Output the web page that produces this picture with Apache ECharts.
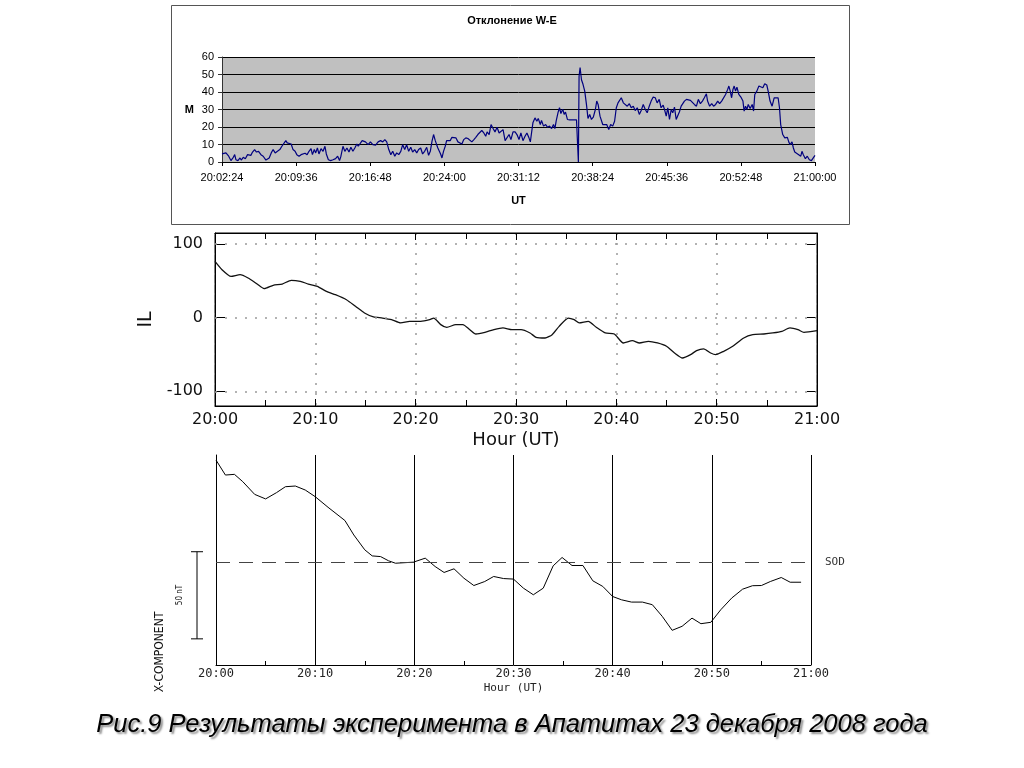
<!DOCTYPE html>
<html><head><meta charset="utf-8">
<script src="https://cdn.jsdelivr.net/npm/echarts@6/dist/echarts.min.js"></script>
<style>html,body{margin:0;padding:0;background:#fff;}#c{width:1024px;height:768px;}</style>
</head><body><div id="c"></div>
<script>
// ---------- data ----------
const topTitle = 'Отклонение W-E';
const topTickLabels = ['20:02:24','20:09:36','20:16:48','20:24:00','20:31:12','20:38:24','20:45:36','20:52:48','21:00:00'];
// seconds after 20:02:24
const topSeconds = [0,23,39,52,66,74,81,93,105,112,124,136,149,159,168,178,190,201,213,227,240,256,265,275,287,298,310,323,337,349,360,372,380,391,403,414,426,436,449,461,472,484,496,507,519,527,538,546,556,565,577,589,600,608,620,633,647,662,674,685,693,705,716,728,740,751,763,774,786,794,805,817,
836,852,865,879,895,910,924,937,949,960,972,984,995,1007,1018,1030,1042,1053,1065,1076,1088,1100,1111,1123,1135,1146,1158,1169,1181,1193,1204,1214,1224,1233,1243,1251,1258,1266,1274,1282,1291,1301,1309,1320,1330,1340,1351,1363,1375,1386,1398,1409,1421,1433,1444,1456,1468,1479,1491,1502,1514,1526,1537,1545,1557,1568,1580,1591,1603,1615,1626,1638,1650,1661,1673,1684,1696,
1708,1719,1731,1742,1754,1766,1777,1789,1797,1804,1812,1824,1835,1843,1855,1862,1874,1886,1897,1909,1921,1932,1940,1948,1959,1967,1975,1986,1994,2002,2013,2027,2046,2066,2075,2077,2081,2087,2095,2104,2114,2124,2133,2143,2153,2164,2176,2184,2192,2203,2211,2219,2230,2242,2254,2265,2277,2288,2298,2308,2319,2327,2339,2350,2362,2374,2385,2397,2408,2420,2432,2443,2455,2467,2478,2490,2501,2513,2525,2536,2548,2559,2571,
2579,2589,2598,2608,2618,2627,2637,2647,2656,2666,2676,2687,2695,2707,2718,2730,2741,2753,2765,2776,2788,2800,2811,2823,2830,2842,2854,2865,2877,2889,2900,2912,2923,2935,2947,2954,2962,2970,2978,2985,2993,3001,3012,3024,3036,3043,3051,3059,3067,3078,3090,3098,3105,3117,3129,3140,3152,3163,3175,3183,3194,3206,3218,3229,3241,3249,3256,3268,3280,3287,3295,3303,3311,3322,3330,3338,3349,3361,3373,3380,3388,3400,3411,3423,3435,3446,3456];
const topValues = [4.6,5.2,3.3,0.8,2.7,4.2,1.3,0.8,2.3,1.1,2.7,1.9,4.2,5.0,3.8,5.7,7.1,5.7,6.1,4.2,3.3,1.1,0.8,2.3,5.2,7.1,5.2,6.1,7.1,9.0,9.9,12.2,10.9,9.9,10.3,7.1,6.1,4.2,3.3,4.2,3.6,5.0,4.2,6.1,7.6,4.2,7.1,5.2,8.0,4.6,7.6,6.1,9.0,4.6,1.3,0.8,1.3,1.9,3.3,0.8,3.3,9.0,6.1,8.0,5.7,8.4,6.1,8.0,10.3,9.0,9.9,12.2,
11.5,9.9,11.5,9.9,9.6,11.5,12.2,11.5,12.8,11.5,7.1,4.2,6.1,3.3,5.2,4.2,6.1,9.9,7.1,9.9,6.1,8.4,5.7,7.1,5.2,7.1,8.0,4.6,6.1,8.4,3.8,6.1,11.9,15.7,12.2,9.9,8.0,7.6,4.6,2.3,6.1,9.0,12.2,12.8,12.2,14.1,14.7,13.8,11.5,12.2,10.3,12.8,13.8,13.4,13.8,11.5,12.8,14.1,15.7,14.7,18.0,16.6,14.7,17.2,15.7,21.4,19.1,17.2,19.9,16.6,15.7,18.5,12.2,11.5,15.7,12.8,17.2,
17.2,15.7,12.8,16.6,12.2,14.7,16.6,13.8,11.5,16.6,22.4,25.2,23.3,24.9,21.4,23.7,20.5,21.4,19.9,20.5,19.1,21.4,19.1,23.7,28.5,31.0,27.7,30.2,27.2,28.5,24.3,24.1,24.1,24.1,24.1,0,49,54,47,44.4,40.5,32.9,24.9,27.2,24.3,25.6,30.0,34.8,32.9,26.2,25.2,21.4,20.5,21.4,18.5,21.4,20.5,23.3,31.0,33.8,34.8,36.7,33.8,32.9,31.9,33.3,31.0,31.9,29.4,31.0,27.2,29.4,32.9,30.0,28.1,31.9,34.8,37.1,36.7,33.8,35.8,31.0,32.5,
30.0,26.2,31.0,24.3,30.0,28.1,31.4,24.3,23.3,28.7,31.9,32.9,34.8,35.8,36.7,35.2,34.8,32.9,31.9,35.8,33.3,34.8,36.7,39.0,34.8,31.9,33.3,31.9,32.9,34.8,33.3,34.8,33.8,38.6,41.5,43.4,40.5,36.7,41.5,43.4,40.5,42.8,38.6,37.1,34.8,29.1,31.9,30.0,32.9,30.6,32.9,29.1,38.6,40.5,43.4,44.4,42.4,44.7,44.0,40.5,34.8,31.9,36.7,37.1,36.7,31.0,21.4,15.7,13.8,12.8,14.1,11.5,9.9,11.5,8.0,5.7,5.2,4.2,3.3,6.1,4.2,1.9,3.3,1.3,0.8,1.9,3.8];

const hourLabels = ['20:00','20:10','20:20','20:30','20:40','20:50','21:00'];
// minutes after 20:00
const ilMinutes = [0,0.7,1.6,2.5,3.3,4.2,4.9,5.8,6.7,7.6,8.5,9.3,10.2,11.1,12.0,13.1,14.0,14.9,15.8,16.7,17.6,18.5,19.4,20.5,21.4,21.8,22.5,23.1,24.0,24.7,25.4,26.0,26.9,27.8,28.7,29.6,30.5,31.4,32.0,32.9,33.6,34.3,35.2,35.8,36.3,37.2,38.0,38.9,39.8,40.7,41.6,42.3,43.2,44.1,45.0,45.8,46.6,47.4,48.0,48.7,49.4,49.9,50.7,51.6,52.7,53.6,54.7,55.6,56.5,57.3,58.1,58.7,60];
const ilValues = [76.5,65.2,56.1,58.4,53.8,45.7,39.4,43.9,45.7,50.7,49.3,45.7,42.5,35.7,31.2,24.4,15.4,6.3,0.9,-0.5,-2.7,-7.2,-5.0,-5.0,-2.7,-0.5,-9.5,-13.1,-9.5,-9.5,-16.3,-22.2,-19.9,-16.3,-14.0,-16.3,-16.3,-20.8,-26.7,-27.6,-23.1,-11.8,-0.5,-2.7,-7.2,-5.0,-13.1,-20.8,-22.2,-34.4,-31.2,-34.4,-32.1,-34.4,-38.9,-48.0,-54.8,-50.2,-44.8,-42.5,-48.0,-50.2,-45.7,-38.9,-27.6,-23.1,-22.2,-20.8,-18.6,-14.0,-16.3,-19.9,-17.6];
const ilTickValues = [100, 0, -100];

const xMinutes = [0,0.95,1.86,2.7,3.9,5.0,6.1,7.0,8.0,9.0,10.0,11.3,13.0,13.9,15.0,15.75,16.6,17.4,18.1,19.9,21.1,22.1,23.0,24.0,25.0,26.0,27.1,28.0,29.0,30.0,31.0,32.0,33.0,34.0,34.9,35.9,37.0,38.0,39.0,40.0,40.9,41.9,43.0,44.0,45.0,46.0,47.0,48.0,48.9,49.9,50.9,52.0,53.1,54.1,55.0,55.9,57.0,57.9,59.0];
const xValues = [58.6,50,50.4,46.2,38.9,36.3,39.9,43.3,43.7,41.4,37.6,31.5,23.9,15.6,7.1,3.6,3.2,0.8,-0.6,0,2.3,-2.5,-5.9,-3.8,-9.2,-13.4,-11.1,-8.2,-9.4,-9.7,-14.9,-18.7,-14.9,-2.1,2.7,-1.9,-1.9,-10.7,-13.9,-19.7,-21.6,-22.9,-22.9,-24.4,-31.1,-39.1,-36.8,-32.1,-35.3,-34.5,-27.3,-20.6,-15.5,-13.5,-13.4,-11.1,-8.8,-11.5,-11.5];
const scaleBar = [6, -44]; // 50 nT
const captionText = 'Рис.9 Результаты эксперимента в Апатитах 23 декабря 2008 года';

// ---------- chart ----------
const chart = echarts.init(document.getElementById('c'), null, {renderer: 'canvas'});
const zip = (a, b) => a.map((v, i) => [v, b[i]]);
const sans = 'Liberation Sans';
const mono = 'DejaVu Sans Mono';
const dotted = {type: [2, 8], color: '#9a9a9a', width: 1.5};

chart.setOption({
  animation: false,
  backgroundColor: '#fff',
  title: [
    {text: topTitle, left: 'center', top: 15, padding: 0,
     textStyle: {fontFamily: sans, fontSize: 11, fontWeight: 'bold', color: '#000'}},
    {text: captionText, left: 'center', top: 712, padding: 0,
     textStyle: {fontFamily: sans, fontSize: 25.5, fontStyle: 'italic', fontWeight: 'normal', color: '#000',
       textShadowColor: 'rgba(0,0,0,0.45)', textShadowOffsetX: 2, textShadowOffsetY: 2, textShadowBlur: 2}}
  ],
  graphic: [
    {type: 'rect', shape: {x: 171.5, y: 5.5, width: 678, height: 219},
     style: {fill: 'none', stroke: '#555', lineWidth: 1}, silent: true},
    {type: 'text', x: 160, y: 652, rotation: Math.PI / 2,
     style: {text: 'X-COMPONENT', font: '12px "Liberation Sans Narrow", "DejaVu Sans Condensed", sans-serif', fill: '#111', align: 'center', verticalAlign: 'middle'}},
    {type: 'text', x: 180, y: 595, rotation: Math.PI / 2,
     style: {text: '50 nT', font: '8px "Liberation Sans Narrow", "DejaVu Sans Condensed", sans-serif', fill: '#111', align: 'center', verticalAlign: 'middle'}}
  ],
  grid: [
    {left: 222, top: 57, width: 593, height: 105, show: true, backgroundColor: '#c0c0c0', borderWidth: 0},
    {left: 215, top: 233, width: 602, height: 173, show: true, backgroundColor: '#fff', borderColor: '#000', borderWidth: 1},
    {left: 216, top: 455, width: 595, height: 210, show: false}
  ],
  xAxis: [
    {gridIndex: 0, type: 'value', min: 0, max: 3456, interval: 432,
     name: 'UT', nameLocation: 'middle', nameGap: 33,
     nameTextStyle: {fontFamily: sans, fontSize: 11, fontWeight: 'bold', color: '#000'},
     axisLine: {onZero: false, lineStyle: {color: '#000', width: 1}},
     axisTick: {show: true, length: 4, lineStyle: {color: '#000'}},
     axisLabel: {fontFamily: sans, fontSize: 11, color: '#000', margin: 10,
       formatter: v => topTickLabels[Math.round(v / 432)]},
     splitLine: {show: false}},
    {gridIndex: 1, type: 'value', min: 0, max: 60, interval: 10,
     name: 'Hour (UT)', nameLocation: 'middle', nameGap: 25,
     nameTextStyle: {fontFamily: 'DejaVu Sans', fontSize: 18, color: '#111'},
     axisLine: {onZero: false, lineStyle: {color: '#000'}},
     axisTick: {inside: true, length: 7, lineStyle: {color: '#000'}},
     minorTick: {show: true, splitNumber: 2, length: 6, lineStyle: {color: '#000'}},
     axisLabel: {fontFamily: 'DejaVu Sans', fontSize: 16, color: '#111', margin: 6,
       formatter: v => hourLabels[Math.round(v / 10)]},
     splitLine: {show: true, lineStyle: dotted}},
    {gridIndex: 1, type: 'value', position: 'top', min: 0, max: 60, interval: 10,
     axisLine: {onZero: false, lineStyle: {color: '#000'}},
     axisTick: {inside: true, length: 7, lineStyle: {color: '#000'}},
     minorTick: {show: true, splitNumber: 2, length: 6, lineStyle: {color: '#000'}},
     axisLabel: {show: false}, splitLine: {show: false}},
    {gridIndex: 2, type: 'value', min: 0, max: 60, interval: 10,
     name: 'Hour (UT)', nameLocation: 'middle', nameGap: 18,
     nameTextStyle: {fontFamily: mono, fontSize: 11, color: '#222'},
     axisLine: {onZero: false, lineStyle: {color: '#000'}},
     axisTick: {show: false, inside: true},
     minorTick: {show: true, splitNumber: 2, length: 4, lineStyle: {color: '#000'}},
     axisLabel: {fontFamily: mono, fontSize: 12, color: '#222', margin: 3,
       formatter: v => hourLabels[Math.round(v / 10)]},
     splitLine: {show: true, lineStyle: {color: '#000', width: 1}}}
  ],
  yAxis: [
    {gridIndex: 0, type: 'value', min: 0, max: 60, interval: 10,
     name: 'M', nameLocation: 'middle', nameRotate: 0, nameGap: 28,
     nameTextStyle: {fontFamily: sans, fontSize: 11, fontWeight: 'bold', color: '#000'},
     axisLine: {show: true, onZero: false, lineStyle: {color: '#333'}},
     axisTick: {show: true, length: 4, lineStyle: {color: '#333'}},
     axisLabel: {fontFamily: sans, fontSize: 11, color: '#000', margin: 8},
     splitLine: {show: true, lineStyle: {color: '#000', width: 1}}},
    {gridIndex: 1, type: 'value', min: -120, max: 115,
     name: 'IL', nameLocation: 'middle', nameRotate: 90, nameGap: 58,
     nameTextStyle: {fontFamily: 'DejaVu Sans', fontSize: 19, color: '#111'},
     axisLine: {show: true, onZero: false, lineStyle: {color: '#000'}},
     axisTick: {show: true, inside: true, length: 10, customValues: ilTickValues, lineStyle: {color: '#000'}},
     axisLabel: {fontFamily: 'DejaVu Sans', fontSize: 16, color: '#111', margin: 12, customValues: ilTickValues},
     splitLine: {show: false}},
    {gridIndex: 1, type: 'value', position: 'right', min: -120, max: 115,
     axisLine: {show: true, onZero: false, lineStyle: {color: '#000'}},
     axisTick: {show: true, inside: true, length: 10, customValues: ilTickValues, lineStyle: {color: '#000'}},
     axisLabel: {show: false}, splitLine: {show: false}},
    {gridIndex: 2, type: 'value', min: -59, max: 61.5,
     axisLine: {show: true, onZero: false, lineStyle: {color: '#000'}},
     axisTick: {show: false}, axisLabel: {show: false}, splitLine: {show: false}}
  ],
  series: [
    {type: 'line', xAxisIndex: 0, yAxisIndex: 0, data: zip(topSeconds, topValues),
     showSymbol: false, lineStyle: {color: '#00007f', width: 1.2}, itemStyle: {color: '#00007f'}},
    {type: 'line', xAxisIndex: 1, yAxisIndex: 1, data: zip(ilMinutes, ilValues),
     showSymbol: false, smooth: 0.2, lineStyle: {color: '#111', width: 1.3}, itemStyle: {color: '#111'},
     markLine: {silent: true, symbol: 'none', label: {show: false}, lineStyle: dotted,
       data: ilTickValues.map(v => ({yAxis: v}))}},
    {type: 'line', xAxisIndex: 3, yAxisIndex: 3, data: zip(xMinutes, xValues),
     showSymbol: false, lineStyle: {color: '#000', width: 1}, itemStyle: {color: '#000'},
     markLine: {silent: true, symbol: 'none',
       lineStyle: {type: [14, 9], color: '#444', width: 1},
       label: {show: true, position: 'end', distance: 14, formatter: 'SOD', fontFamily: mono, fontSize: 11, color: '#333'},
       data: [{yAxis: 0}]}},
    {type: 'custom', xAxisIndex: 3, yAxisIndex: 3, clip: false, silent: true,
     data: [[0, scaleBar[0], scaleBar[1]]],
     encode: {x: 0, y: [1, 2]},
     renderItem: (params, api) => {
       const p1 = api.coord([api.value(0), api.value(1)]);
       const p2 = api.coord([api.value(0), api.value(2)]);
       const x = p1[0] - 19;
       const st = {stroke: '#000', lineWidth: 1};
       return {type: 'group', children: [
         {type: 'line', shape: {x1: x, y1: p1[1], x2: x, y2: p2[1]}, style: st},
         {type: 'line', shape: {x1: x - 6, y1: p1[1], x2: x + 6, y2: p1[1]}, style: st},
         {type: 'line', shape: {x1: x - 6, y1: p2[1], x2: x + 6, y2: p2[1]}, style: st}
       ]};
     }}
  ]
});
</script>
</body></html>
